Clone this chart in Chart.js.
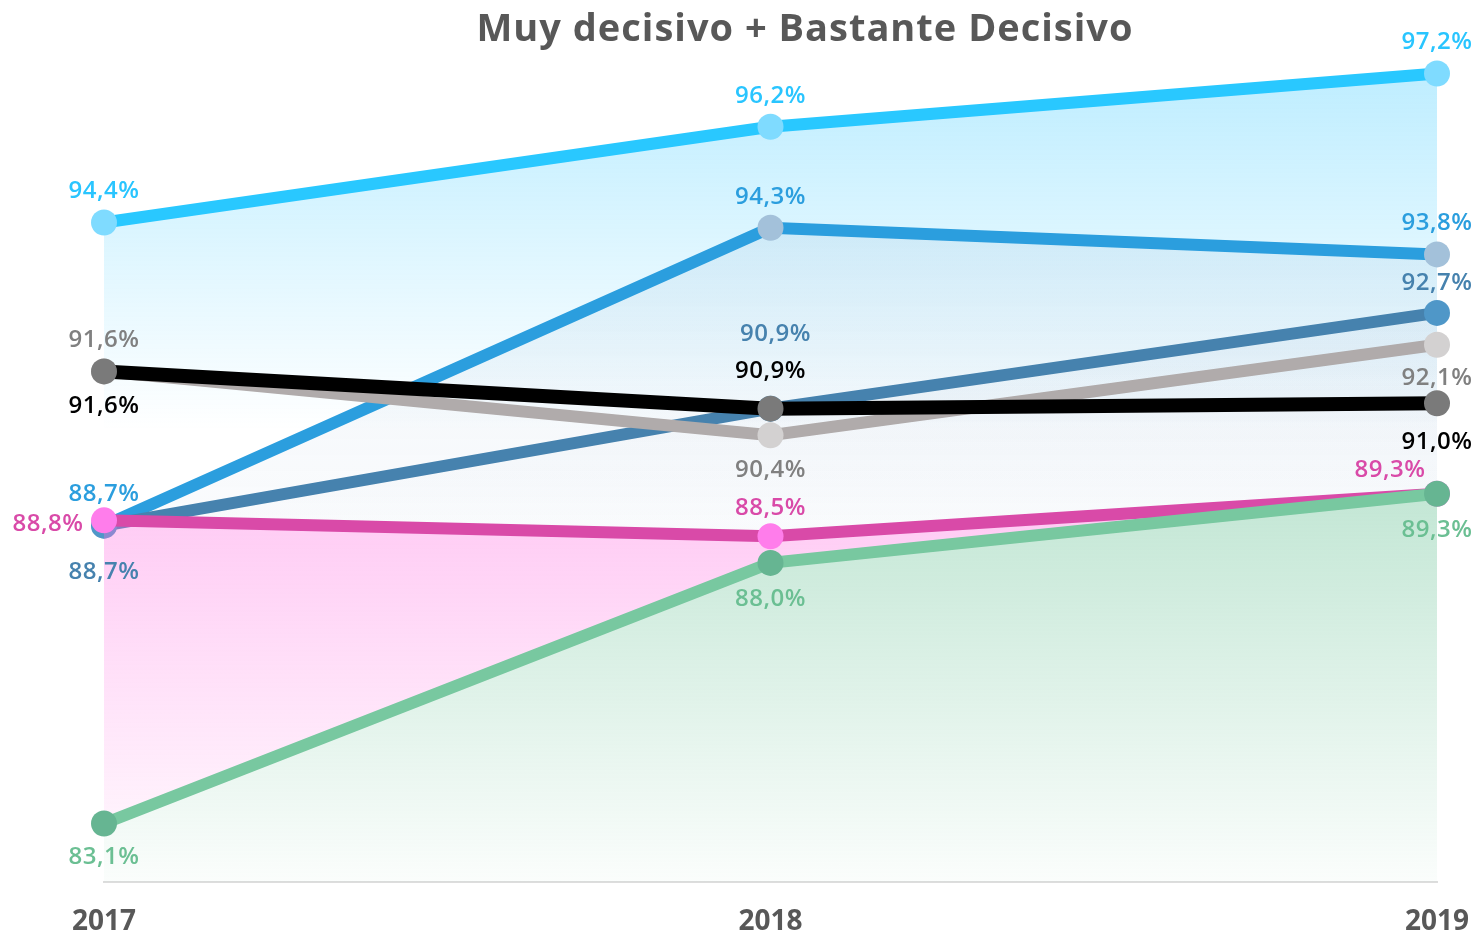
<!DOCTYPE html>
<html>
<head>
<meta charset="utf-8">
<script src="https://cdn.jsdelivr.net/npm/chart.js@4.4.1/dist/chart.umd.min.js"></script>
<style>
  html, body { margin: 0; padding: 0; background: #fff; }
  #wrap { width: 1478px; height: 933px; }
</style>
</head>
<body>
<div id="wrap"><canvas id="chart"></canvas></div>
<script>
const years = ['2017', '2018', '2019'];

const serieCeleste = [94.4, 96.2, 97.2];
const serieAzul = [88.7, 94.3, 93.8];
const serieAcero = [88.7, 90.9, 92.7];
const serieGris = [91.6, 90.4, 92.1];
const serieNegra = [91.6, 90.9, 91.0];
const serieRosa = [88.8, 88.5, 89.3];
const serieVerde = [83.1, 88.0, 89.3];

const titulo = 'Muy decisivo + Bastante Decisivo';

// label offsets (px) relative to each point: [dx, dy]
const offCeleste = [[0, -31], [0, -31], [0, -31]];
const offAzul = [[0, -31], [0, -31], [0, -31]];
const offAcero = [[0, 47], [5, -74], [0, -30]];
const offGris = [[0, -31], [0, 35], [0, 33]];
const offNegra = [[0, 35], [0, -37], [0, 39]];
const offRosa = [[-56, 4], [0, -28], [-47, -24]];
const offVerde = [[0, 34], [0, 36], [0, 36]];

function grad(rgb, a1, y1, a2, y2) {
  return (ctx) => {
    const area = ctx.chart.chartArea;
    if (!area) return 'rgba(0,0,0,0)';
    const g = ctx.chart.ctx.createLinearGradient(0, y1, 0, y2);
    g.addColorStop(0, 'rgba(' + rgb + ',' + a1 + ')');
    g.addColorStop(1, 'rgba(' + rgb + ',' + a2 + ')');
    return g;
  };
}

function serie(data, line, point, labelColor, offsets, width, fill, bg) {
  return {
    data: data,
    borderColor: line,
    borderWidth: width,
    pointBackgroundColor: point,
    pointBorderWidth: 0,
    pointRadius: 13,
    pointHoverRadius: 13,
    tension: 0,
    clip: false,
    fill: fill,
    backgroundColor: bg || 'rgba(0,0,0,0)',
    labelColor: labelColor,
    labelOffsets: offsets
  };
}

const etiquetas = {
  id: 'etiquetas',
  afterDatasetsDraw(chart) {
    const ctx = chart.ctx;
    ctx.save();
    ctx.textAlign = 'center';
    ctx.textBaseline = 'middle';
    ctx.font = '600 24px "Open Sans", sans-serif';
    ctx.letterSpacing = '0.5px';
    chart.data.datasets.forEach((ds, i) => {
      const meta = chart.getDatasetMeta(i);
      meta.data.forEach((pt, j) => {
        const off = ds.labelOffsets[j];
        ctx.fillStyle = ds.labelColor;
        ctx.fillText(ds.data[j].toFixed(1).replace('.', ',') + '%', pt.x + off[0], pt.y + off[1]);
      });
    });
    ctx.fillStyle = '#585858';
    ctx.font = 'bold 38px "Open Sans", sans-serif';
    ctx.letterSpacing = '1px';
    ctx.fillText(titulo, 805, 30);
    ctx.restore();
  }
};

new Chart(document.getElementById('chart'), {
  type: 'line',
  data: {
    labels: years,
    datasets: [
      serie(serieVerde, '#78C8A0', '#66B592', '#6BBF93', offVerde, 12, 'start', grad('120,200,160', 0.45, 490, 0.03, 882)),
      serie(serieRosa, '#D94AA8', '#FF7DEB', '#D94AA8', offRosa, 12, 0, grad('255,110,225', 0.35, 520, 0.03, 882)),
      serie(serieNegra, '#000000', '#7A7A7A', '#000000', offNegra, 14, false),
      serie(serieGris, '#B0ABAB', '#D3D1D1', '#808080', offGris, 12, false),
      serie(serieAcero, '#4682AE', '#4F97C8', '#4682AE', offAcero, 12, 1, grad('90,130,180', 0.06, 300, 0.0, 560)),
      serie(serieAzul, '#2B9EDE', '#A3C1DA', '#2B9EDE', offAzul, 12, 1, grad('90,140,190', 0.1, 220, 0.02, 560)),
      serie(serieCeleste, '#29C8FF', '#7FDBFF', '#29C5FF', offCeleste, 12, 1, grad('41,197,255', 0.3, 74, 0.0, 430))
    ]
  },
  options: {
    responsive: true,
    maintainAspectRatio: false,
    animation: false,
    layout: { padding: { left: 104, right: 41, top: 31, bottom: 0 } },
    plugins: {
      legend: { display: false },
      tooltip: { enabled: false },
      title: { display: false }
    },
    scales: {
      x: {
        offset: false,
        grid: { display: false, drawTicks: false },
        border: { display: true, color: '#DDDDDD', width: 2 },
        ticks: {
          color: '#585858',
          font: { family: '"Open Sans", sans-serif', size: 28, weight: 'bold' },
          padding: 23,
          maxRotation: 0
        },
        afterFit: (s) => { s.height = 51; s.paddingLeft = 0; s.paddingRight = 0; }
      },
      y: {
        display: false,
        min: 82,
        max: 98
      }
    }
  },
  plugins: [etiquetas]
});
</script>
</body>
</html>
